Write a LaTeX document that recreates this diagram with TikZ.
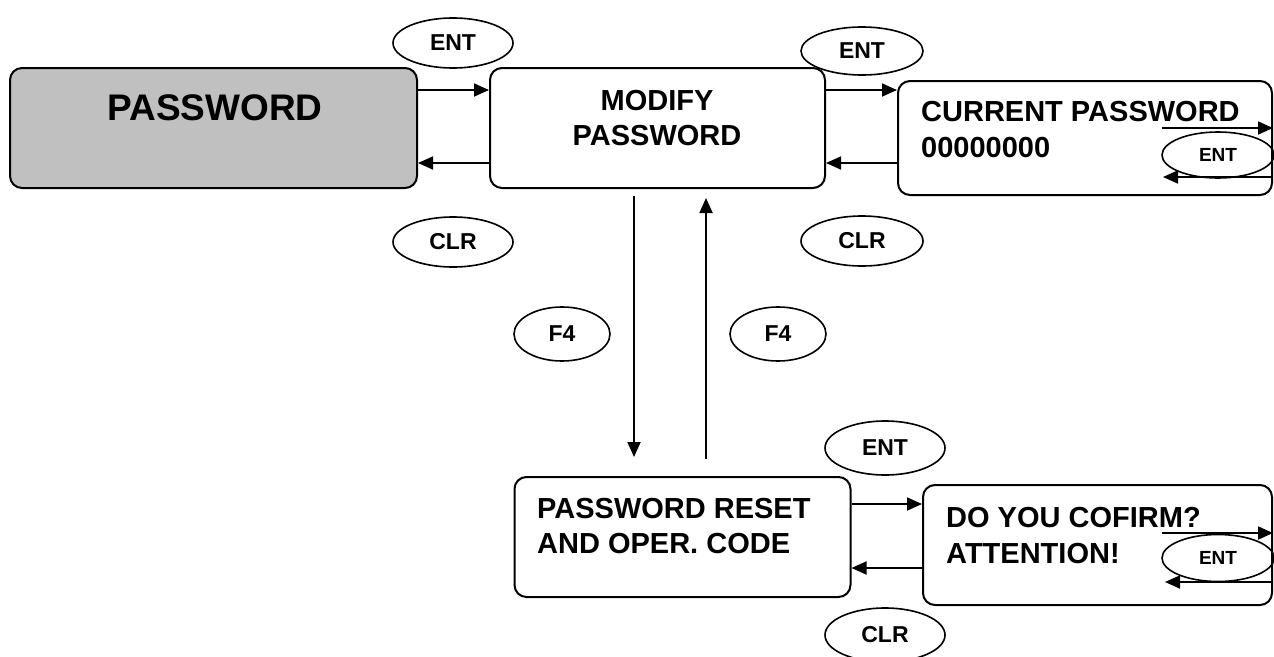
\documentclass[tikz,border=0pt]{standalone}
\usepackage{fontspec}
\setmainfont{Liberation Sans}
\usetikzlibrary{shapes.geometric,arrows.meta}
\definecolor{boxgray}{RGB}{192,192,192}
\begin{document}
\begin{tikzpicture}[x=1pt,y=-1pt,
  box/.style={draw,line width=2pt,rounded corners=12pt,inner sep=0pt},
  key/.style={draw,ellipse,line width=1.6pt,inner sep=0pt,font=\fontsize{23}{23}\selectfont\bfseries},
  ikey/.style={key,font=\fontsize{19}{19}\selectfont\bfseries},
  txt/.style={anchor=base west,inner sep=0pt,font=\fontsize{29}{29}\selectfont\bfseries},
  ctxt/.style={anchor=base,inner sep=0pt,font=\fontsize{29}{29}\selectfont\bfseries},
  arr/.style={line width=1.8pt,-{Triangle[length=15pt,width=13pt]}}]
\useasboundingbox (0,0) rectangle (1274,656);
% boxes
\node[box,fill=boxgray,minimum width=407pt,minimum height=120pt] (pw) at (213.5,128) {};
\node[box,minimum width=335pt,minimum height=120pt] (mod) at (657.5,128) {};
\node[box,minimum width=374pt,minimum height=114pt] (cur) at (1085,138) {};
\node[box,minimum width=336pt,minimum height=120pt] (rst) at (682.5,537) {};
\node[box,minimum width=349pt,minimum height=120pt] (cnf) at (1097.5,545) {};
% texts
\node[ctxt,font=\fontsize{37}{37}\selectfont\bfseries] (tpw) at (215,120) {PASSWORD};
\node[ctxt] (tmod1) at (657,110.5) {MODIFY};
\node[ctxt] (tmod2) at (657,145.5) {PASSWORD};
\node[txt] (tcur1) at (921,121.5) {CURRENT PASSWORD};
\node[txt] (tcur2) at (921,157.5) {00000000};
\node[txt] (trst1) at (537,518.5) {PASSWORD RESET};
\node[txt] (trst2) at (537,553.5) {AND OPER. CODE};
\node[txt] (tcnf1) at (946,527.5) {DO YOU COFIRM?};
\node[txt] (tcnf2) at (946,563) {ATTENTION!};
% keys
\node[key,minimum width=120pt,minimum height=50pt] (e1) at (453,43) {ENT};
\node[key,minimum width=120pt,minimum height=50pt] (c1) at (453,242) {CLR};
\node[key,minimum width=122pt,minimum height=48pt] (e2) at (862,51) {ENT};
\node[key,minimum width=122pt,minimum height=50pt] (c2) at (862,241) {CLR};
\node[key,minimum width=96pt,minimum height=54pt] (f1) at (562,334) {F4};
\node[key,minimum width=96pt,minimum height=54pt] (f2) at (778,334) {F4};
\node[key,minimum width=120pt,minimum height=54pt] (e3) at (885,448) {ENT};
\node[key,minimum width=120pt,minimum height=54pt] (c3) at (885,635) {CLR};
\node[ikey,minimum width=112pt,minimum height=46pt] (e4) at (1218,155) {ENT};
\node[ikey,minimum width=112pt,minimum height=47pt] (e5) at (1218,558) {ENT};
% helper coordinates
\coordinate (ya) at (0,90);
\coordinate (yb) at (0,163);
\coordinate (yc) at (0,504);
\coordinate (yd) at (0,568);
\coordinate (xd) at (634,0);
\coordinate (xu) at (706,0);
\coordinate (i1) at (1162,128);
\coordinate (i2) at (1163,177);
\coordinate (i3) at (1162,533);
\coordinate (i4) at (1165,582);
% connectors
\draw[arr] (pw.east |- ya) -- (mod.west |- ya);
\draw[arr] (mod.west |- yb) -- (pw.east |- yb);
\draw[arr] (mod.east |- ya) -- (cur.west |- ya);
\draw[arr] (cur.west |- yb) -- (mod.east |- yb);
\draw[arr] (rst.east |- yc) -- (cnf.west |- yc);
\draw[arr] (cnf.west |- yd) -- (rst.east |- yd);
\draw[arr,shorten <=7pt,shorten >=19pt] (mod.south -| xd) -- (rst.north -| xd);
\draw[arr,shorten <=17pt,shorten >=9pt] (rst.north -| xu) -- (mod.south -| xu);
\draw[arr] (i1) -- (cur.east |- i1);
\draw[arr] (cur.east |- i2) -- (i2);
\draw[arr] (i3) -- (cnf.east |- i3);
\draw[arr] (cnf.east |- i4) -- (i4);
\end{tikzpicture}
\end{document}
